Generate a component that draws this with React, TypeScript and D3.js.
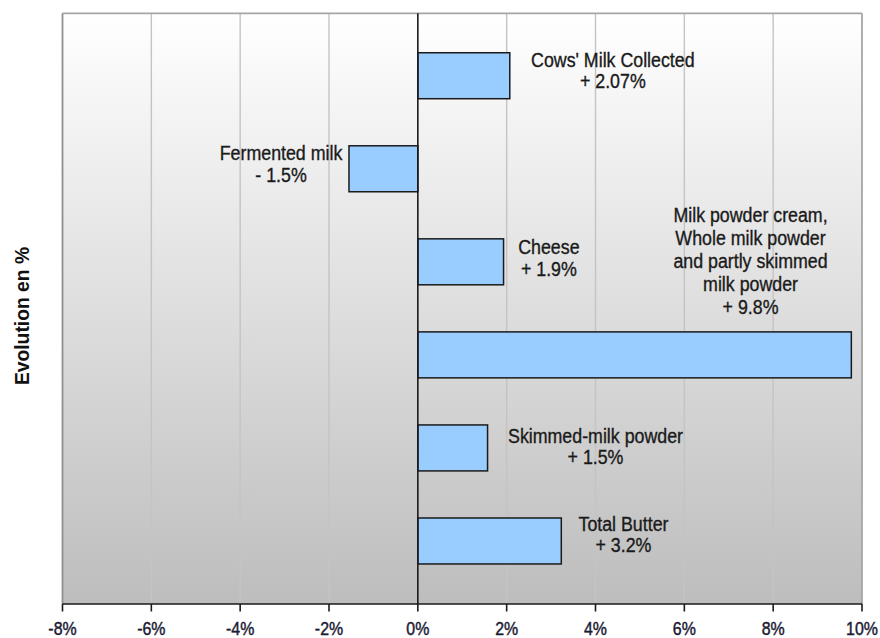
import React from "react";
import * as d3 from "d3";

const categories = [
  "Cows' Milk Collected",
  "Fermented milk",
  "Cheese",
  "Milk powder",
  "Skimmed-milk powder",
  "Total Butter",
];
const values = [2.07, -1.55, 1.93, 9.76, 1.57, 3.23];
const labelLines = [
  ["Cows' Milk Collected", "+ 2.07%"],
  ["Fermented milk", "- 1.5%"],
  ["Cheese", "+ 1.9%"],
  ["Milk powder cream,", "Whole milk powder", "and partly skimmed", "milk powder", "+ 9.8%"],
  ["Skimmed-milk powder", "+ 1.5%"],
  ["Total Butter", "+ 3.2%"],
];
// label centre (in % units) and first-baseline offset from bar top (px)
const labelX = [4.39, -3.08, 2.95, 7.49, 4.0, 4.63];
const labelDy = [14, 14.7, 15.6, -109.7, 17.7, 12.7];
const labelLH = [21.5, 21.5, 21.5, 23, 21.5, 21.5];
const xTicks = [-8, -6, -4, -2, 0, 2, 4, 6, 8, 10];
const yTitle = "Evolution en %";

const W = 880;
const H = 638;
const left = 62.5;
const right = 862;
const top = 13.3;
const bottom = 604;

export default function App() {
  const x = d3.scaleLinear().domain([-8, 10]).range([left, right]);
  const y = d3
    .scaleBand<string>()
    .domain(categories)
    .range([29.2, 587.5])
    .paddingInner(0.506)
    .paddingOuter(0.253);
  const font = "'Liberation Sans', Arial, sans-serif";

  return (
    <svg
      width={W}
      height={H}
      style={{ position: "absolute", left: 0, top: 0, background: "#fff" }}
    >
      <defs>
        <linearGradient id="bg" x1="0" y1="0" x2="0" y2="1">
          <stop offset="0%" stopColor="#ffffff" />
          <stop offset="100%" stopColor="#bdbdbd" />
        </linearGradient>
      </defs>
      <rect x={left} y={top} width={right - left} height={bottom - top} fill="url(#bg)" />
      {xTicks
        .filter((t) => t !== 0 && t !== -8 && t !== 10)
        .map((t) => (
          <line
            key={"g" + t}
            x1={x(t)}
            x2={x(t)}
            y1={top}
            y2={bottom}
            stroke="#c4c4c4"
            strokeWidth={1.4}
          />
        ))}
      {/* frame */}
      <line x1={left} x2={right} y1={top} y2={top} stroke="#a6a6a6" strokeWidth={1.8} />
      <line x1={left} x2={left} y1={top} y2={bottom} stroke="#8f8f8f" strokeWidth={1.8} />
      <line x1={right} x2={right} y1={top} y2={bottom} stroke="#a6a6a6" strokeWidth={1.8} />
      {/* bars */}
      {categories.map((c, i) => {
        const v = values[i];
        return (
          <rect
            key={c}
            x={x(Math.min(0, v))}
            y={y(c)}
            width={Math.abs(x(v) - x(0))}
            height={y.bandwidth()}
            fill="#99ccff"
            stroke="#1a1a1a"
            strokeWidth={1.5}
          />
        );
      })}
      {/* zero line */}
      <line x1={x(0)} x2={x(0)} y1={top} y2={bottom} stroke="#1a1a1a" strokeWidth={1.6} />
      {/* x axis */}
      <line x1={left} x2={right} y1={bottom} y2={bottom} stroke="#1a1a1a" strokeWidth={1.6} />
      {xTicks.map((t) => (
        <g key={"t" + t}>
          <line x1={x(t)} x2={x(t)} y1={bottom} y2={bottom + 7.5} stroke="#1a1a1a" strokeWidth={1.6} />
          <text
            transform={`translate(${x(t)},${635}) scale(0.86,1)`}
            textAnchor="middle"
            fontFamily={font}
            fontSize={18.5}
            fill="#1a1a33"
            stroke="#1a1a33"
            strokeWidth={0.45}
          >
            {t + "%"}
          </text>
        </g>
      ))}
      {/* labels */}
      {categories.map((c, i) => (
        <g key={"l" + c}>
          {labelLines[i].map((s, j) => (
            <text
              key={j}
              transform={`translate(${x(labelX[i])},${(y(c) as number) + labelDy[i] + j * labelLH[i]}) scale(0.89,1)`}
              textAnchor="middle"
              fontFamily={font}
              fontSize={20}
              fill="#1a1a1a"
              stroke="#1a1a1a"
              strokeWidth={0.35}
            >
              {s}
            </text>
          ))}
        </g>
      ))}
      <text
        transform={`translate(29,316) rotate(-90)`}
        textAnchor="middle"
        fontFamily={font}
        fontWeight="bold"
        fontSize={19.3}
        fill="#111"
      >
        {yTitle}
      </text>
    </svg>
  );
}
